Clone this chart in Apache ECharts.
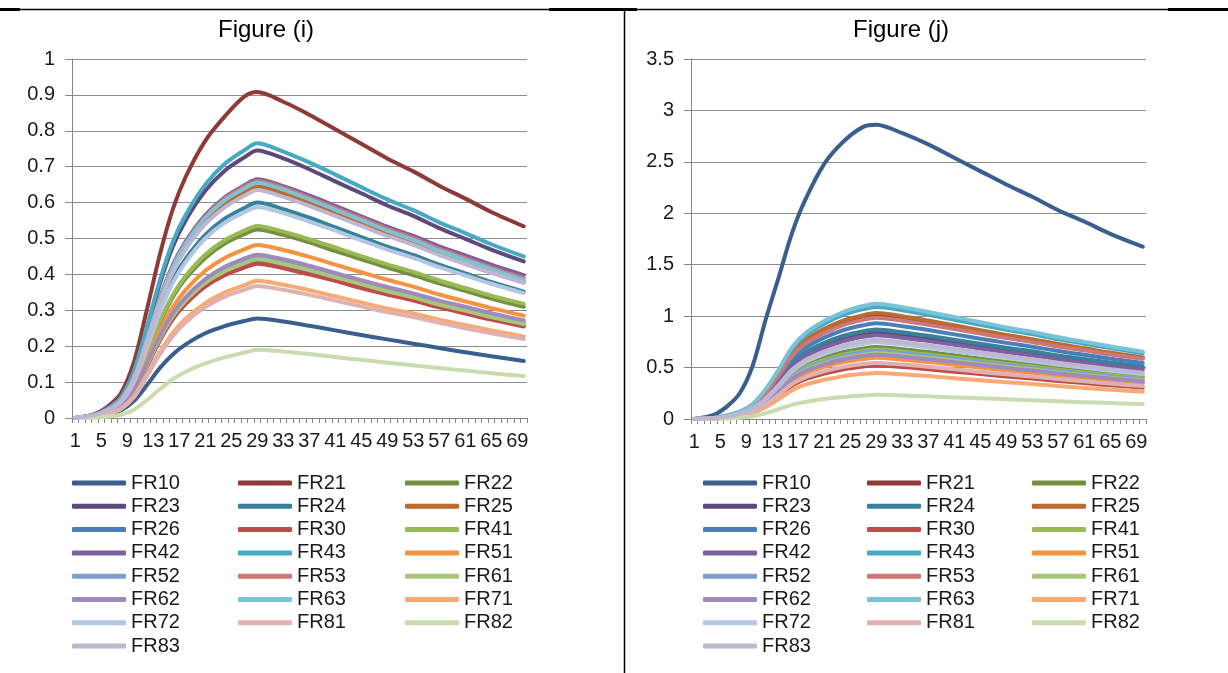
<!DOCTYPE html>
<html><head><meta charset="utf-8">
<script src="https://cdn.jsdelivr.net/npm/echarts@6/dist/echarts.min.js"></script>
<style>html,body{margin:0;padding:0;background:#fff}#c{width:1228px;height:673px}</style>
</head><body><div id="c"></div>
<script>
const categories = ['1','2','3','4','5','6','7','8','9','10','11','12','13','14','15','16','17','18','19','20','21','22','23','24','25','26','27','28','29','30','31','32','33','34','35','36','37','38','39','40','41','42','43','44','45','46','47','48','49','50','51','52','53','54','55','56','57','58','59','60','61','62','63','64','65','66','67','68','69','70'];
const sampleX = ['1','4','6','8','10','12','14','16','18','21','24','27','29','33','37','41','45','49','53','57','61','65','70'];
const seriesNames = ['FR10','FR21','FR22','FR23','FR24','FR25','FR26','FR30','FR41','FR42','FR43','FR51','FR52','FR53','FR61','FR62','FR63','FR71','FR72','FR81','FR82','FR83'];

// Figure (i)
const i_FR10 = [0,.003,.010,.021,.047,.091,.139,.177,.205,.236,.256,.270,.277,.269,.257,.244,.231,.219,.207,.195,.183,.172,.159];
const i_FR21 = [0,.011,.032,.068,.154,.300,.454,.581,.672,.772,.840,.895,.908,.881,.845,.804,.764,.723,.687,.647,.611,.574,.534];
const i_FR22 = [0,.006,.018,.039,.089,.173,.263,.336,.389,.446,.486,.512,.525,.510,.489,.465,.442,.419,.398,.375,.354,.333,.310];
const i_FR23 = [0,.009,.026,.056,.127,.246,.373,.477,.551,.633,.689,.726,.745,.723,.693,.659,.626,.592,.563,.529,.499,.469,.436];
const i_FR24 = [0,.007,.021,.045,.102,.198,.300,.384,.444,.510,.555,.585,.600,.582,.558,.531,.504,.477,.454,.427,.403,.379,.352];
const i_FR25 = [0,.008,.023,.048,.110,.213,.323,.413,.477,.548,.597,.629,.645,.626,.600,.572,.543,.514,.489,.460,.434,.409,.380];
const i_FR26 = [0,.005,.015,.033,.074,.144,.219,.280,.323,.371,.404,.426,.437,.424,.407,.387,.368,.349,.331,.312,.295,.277,.258];
const i_FR30 = [0,.005,.015,.032,.073,.142,.215,.275,.318,.366,.398,.419,.430,.417,.400,.382,.362,.344,.327,.308,.291,.274,.255];
const i_FR41 = [0,.006,.019,.040,.091,.177,.268,.342,.396,.455,.495,.522,.535,.519,.498,.475,.451,.428,.407,.383,.362,.341,.318];
const i_FR42 = [0,.008,.023,.050,.113,.219,.333,.426,.492,.565,.615,.648,.665,.646,.620,.591,.562,.533,.507,.478,.453,.427,.398];
const i_FR43 = [0,.009,.027,.057,.130,.252,.383,.490,.566,.650,.708,.746,.765,.742,.712,.678,.643,.609,.579,.545,.515,.484,.450];
const i_FR51 = [0,.006,.017,.036,.082,.159,.241,.308,.357,.410,.446,.470,.482,.468,.449,.427,.406,.385,.366,.344,.325,.306,.285];
const i_FR52 = [0,.005,.016,.034,.076,.148,.224,.286,.331,.380,.413,.436,.447,.434,.416,.397,.377,.357,.340,.320,.302,.285,.265];
const i_FR53 = [0,.008,.023,.050,.112,.218,.330,.422,.488,.561,.611,.644,.660,.641,.614,.585,.556,.527,.501,.471,.445,.419,.390];
const i_FR61 = [0,.005,.015,.033,.075,.146,.221,.283,.327,.376,.409,.431,.442,.429,.412,.392,.373,.353,.336,.316,.299,.281,.262];
const i_FR62 = [0,.005,.016,.034,.077,.150,.228,.291,.337,.387,.421,.444,.455,.442,.424,.404,.384,.365,.347,.327,.310,.292,.272];
const i_FR63 = [0,.008,.023,.049,.111,.216,.328,.419,.485,.557,.606,.639,.655,.636,.609,.580,.551,.522,.496,.466,.440,.414,.385];
const i_FR71 = [0,.004,.012,.026,.060,.120,.184,.237,.277,.320,.350,.370,.382,.371,.356,.339,.322,.305,.291,.274,.259,.244,.227];
const i_FR72 = [0,.007,.021,.044,.100,.194,.294,.376,.435,.500,.544,.573,.588,.571,.547,.522,.495,.469,.446,.420,.397,.374,.348];
const i_FR81 = [0,.004,.011,.025,.057,.115,.177,.228,.267,.309,.338,.357,.368,.357,.343,.327,.311,.295,.281,.265,.250,.236,.220];
const i_FR82 = [0,.001,.004,.009,.023,.049,.080,.108,.129,.152,.169,.182,.190,.185,.178,.170,.162,.154,.147,.139,.132,.125,.117];
const i_FR83 = [0,.008,.022,.048,.108,.210,.318,.406,.470,.540,.587,.619,.635,.616,.591,.563,.535,.507,.482,.454,.429,.404,.376];

// Figure (j)
const j_FR10 = [0,.04,.12,.25,.52,.97,1.38,1.80,2.12,2.48,2.70,2.84,2.86,2.78,2.67,2.54,2.41,2.28,2.16,2.03,1.92,1.80,1.675];
const j_FR21 = [0,.010,.030,.066,.131,.263,.434,.626,.747,.859,.939,.990,1.01,.980,.939,.894,.848,.803,.762,.716,.676,.635,.590];
const j_FR22 = [0,.007,.021,.046,.091,.182,.301,.434,.518,.595,.651,.686,.70,.679,.651,.620,.588,.557,.529,.497,.469,.441,.410];
const j_FR23 = [0,.008,.025,.054,.109,.217,.359,.518,.618,.710,.777,.818,.835,.810,.777,.739,.702,.665,.631,.594,.561,.527,.490];
const j_FR24 = [0,.009,.026,.057,.113,.226,.374,.539,.644,.740,.809,.853,.87,.844,.809,.770,.731,.692,.658,.618,.584,.549,.510];
const j_FR25 = [0,.010,.031,.067,.134,.268,.443,.639,.762,.876,.958,1.009,1.03,.999,.957,.911,.864,.818,.776,.729,.688,.646,.600];
const j_FR26 = [0,.009,.028,.060,.121,.242,.400,.577,.688,.791,.865,.911,.93,.902,.865,.823,.781,.740,.703,.661,.624,.587,.545];
const j_FR30 = [0,.005,.016,.034,.068,.135,.224,.322,.385,.442,.484,.510,.52,.505,.484,.460,.437,.414,.393,.370,.349,.328,.305];
const j_FR41 = [0,.007,.020,.044,.088,.176,.290,.419,.500,.574,.628,.662,.675,.655,.628,.597,.567,.537,.510,.479,.452,.425,.395];
const j_FR42 = [0,.008,.024,.053,.106,.212,.350,.505,.603,.693,.758,.799,.815,.791,.758,.722,.686,.650,.617,.581,.549,.516,.480];
const j_FR43 = [0,.011,.033,.071,.142,.283,.469,.676,.807,.927,1.014,1.068,1.09,1.058,1.014,.965,.916,.868,.825,.775,.732,.689,.640];
const j_FR51 = [0,.006,.018,.039,.077,.155,.256,.369,.440,.506,.553,.583,.595,.577,.554,.527,.500,.474,.450,.424,.400,.376,.350];
const j_FR52 = [0,.007,.020,.043,.086,.172,.284,.409,.488,.561,.614,.647,.66,.640,.614,.584,.554,.524,.498,.468,.441,.415,.385];
const j_FR53 = [0,.010,.030,.064,.128,.256,.424,.611,.729,.837,.916,.965,.985,.956,.917,.874,.831,.787,.749,.705,.667,.628,.585];
const j_FR61 = [0,.006,.019,.041,.083,.166,.275,.396,.473,.543,.594,.626,.64,.621,.595,.566,.537,.508,.483,.453,.428,.402,.375];
const j_FR62 = [0,.006,.019,.041,.081,.163,.269,.388,.463,.531,.581,.613,.625,.606,.581,.553,.525,.497,.472,.443,.418,.393,.365];
const j_FR63 = [0,.011,.034,.073,.146,.291,.482,.694,.829,.952,1.042,1.098,1.12,1.087,1.041,.991,.941,.890,.846,.795,.750,.705,.655];
const j_FR71 = [0,.004,.013,.029,.058,.116,.193,.278,.332,.381,.417,.439,.448,.435,.417,.397,.377,.358,.340,.320,.302,.285,.265];
const j_FR72 = [0,.007,.022,.048,.097,.194,.320,.462,.551,.633,.693,.730,.745,.723,.693,.659,.625,.592,.562,.528,.499,.468,.435];
const j_FR81 = [0,.005,.016,.035,.071,.142,.234,.338,.403,.463,.507,.534,.545,.529,.507,.483,.458,.434,.412,.388,.366,.344,.320];
const j_FR82 = [0,.002,.006,.013,.027,.057,.095,.138,.165,.195,.214,.228,.235,.229,.220,.210,.201,.191,.183,.173,.164,.156,.146];
const j_FR83 = [0,.008,.023,.050,.100,.200,.331,.477,.570,.655,.716,.755,.77,.747,.716,.681,.646,.612,.581,.546,.516,.485,.450];

const iSeries = [i_FR10,i_FR21,i_FR22,i_FR23,i_FR24,i_FR25,i_FR26,i_FR30,i_FR41,i_FR42,i_FR43,i_FR51,i_FR52,i_FR53,i_FR61,i_FR62,i_FR63,i_FR71,i_FR72,i_FR81,i_FR82,i_FR83];
const jSeries = [j_FR10,j_FR21,j_FR22,j_FR23,j_FR24,j_FR25,j_FR26,j_FR30,j_FR41,j_FR42,j_FR43,j_FR51,j_FR52,j_FR53,j_FR61,j_FR62,j_FR63,j_FR71,j_FR72,j_FR81,j_FR82,j_FR83];

const colors = ['#3A5F8E','#8E3A38','#74903F','#5E4A7A','#37829A','#BC6B2F','#4A7EBB','#BE4B48','#98B954','#7D60A0','#46AAC5','#F69240','#7E9ECD','#CB7876','#AAC67A','#9E8BBD','#7CC2D6','#F8AA74','#B4C7E2','#DEB2B1','#CADCAF','#BFB6D2'];
const legendCols = [
  ['FR10','FR23','FR26','FR42','FR52','FR62','FR72','FR83'],
  ['FR21','FR24','FR30','FR43','FR53','FR63','FR81'],
  ['FR22','FR25','FR41','FR51','FR61','FR71','FR82']
];

const FONT = "'Liberation Sans', Arial, sans-serif";
const TXT = '#1a1a1a';
const GRAY = '#868686';

function mkSeries(values, gi) {
  return seriesNames.map((n, k) => ({
    name: n, type: 'line', xAxisIndex: gi, yAxisIndex: gi,
    data: sampleX.map((x, m) => [x, values[k][m]]),
    symbol: 'none', showSymbol: false, smooth: 0.3,
    lineStyle: { width: 4, color: colors[k], cap: 'round', join: 'round' },
    itemStyle: { color: colors[k] },
    silent: true, animation: false
  }));
}
function mkX(gi) {
  return {
    type: 'category', gridIndex: gi, data: categories, boundaryGap: true,
    axisLine: { lineStyle: { color: GRAY, width: 1 } },
    axisTick: { show: true, interval: 0, length: 5, lineStyle: { color: GRAY } },
    axisLabel: { interval: 3, fontSize: 20, margin: 13, color: TXT, fontFamily: FONT },
    splitLine: { show: false }
  };
}
function mkY(gi, max, interval) {
  return {
    type: 'value', gridIndex: gi, min: 0, max: max, interval: interval,
    axisLine: { show: true, lineStyle: { color: GRAY, width: 1 } },
    axisTick: { show: true, length: 7, lineStyle: { color: GRAY } },
    axisLabel: { fontSize: 20, margin: 17, color: TXT, fontFamily: FONT },
    splitLine: { show: true, lineStyle: { color: '#8c8c8c', width: 1 } }
  };
}
function mkLegends(lefts) {
  return legendCols.map((col, c) => ({
    orient: 'vertical', left: lefts[c], top: 473, padding: 0,
    data: col, icon: 'roundRect', itemWidth: 54, itemHeight: 5, itemGap: 3.3,
    selectedMode: false,
    textStyle: { fontSize: 20, lineHeight: 20, color: TXT, fontFamily: FONT }
  }));
}

const chart = echarts.init(document.getElementById('c'), null, { renderer: 'canvas' });
chart.setOption({
  animation: false,
  backgroundColor: '#fff',
  title: [
    { text: 'Figure (i)', left: 266, top: 18, padding: 0, textAlign: 'center',
      textStyle: { fontSize: 24, fontWeight: 'normal', color: '#000', fontFamily: FONT } },
    { text: 'Figure (j)', left: 901, top: 18, padding: 0, textAlign: 'center',
      textStyle: { fontSize: 24, fontWeight: 'normal', color: '#000', fontFamily: FONT } }
  ],
  grid: [
    { left: 72, top: 59, width: 455, height: 359, containLabel: false },
    { left: 691, top: 59, width: 455, height: 360, containLabel: false }
  ],
  xAxis: [mkX(0), mkX(1)],
  yAxis: [mkY(0, 1, 0.1), mkY(1, 3.5, 0.5)],
  legend: mkLegends([72, 238, 405]).concat(mkLegends([703, 867, 1032])),
  series: mkSeries(iSeries, 0).concat(mkSeries(jSeries, 1)),
  graphic: [
    { type: 'line', shape: { x1: 0, y1: 9.5, x2: 20, y2: 9.5 }, style: { stroke: '#000', lineWidth: 3 } },
    { type: 'line', shape: { x1: 20, y1: 9.5, x2: 549, y2: 9.5 }, style: { stroke: '#000', lineWidth: 1.3 } },
    { type: 'line', shape: { x1: 549, y1: 9.5, x2: 637, y2: 9.5 }, style: { stroke: '#000', lineWidth: 3 } },
    { type: 'line', shape: { x1: 637, y1: 9.5, x2: 1168, y2: 9.5 }, style: { stroke: '#000', lineWidth: 1.3 } },
    { type: 'line', shape: { x1: 1168, y1: 9.5, x2: 1228, y2: 9.5 }, style: { stroke: '#000', lineWidth: 3 } },
    { type: 'line', shape: { x1: 624.5, y1: 9, x2: 624.5, y2: 673 }, style: { stroke: '#000', lineWidth: 1.5 } }
  ]
});
</script>
</body></html>
